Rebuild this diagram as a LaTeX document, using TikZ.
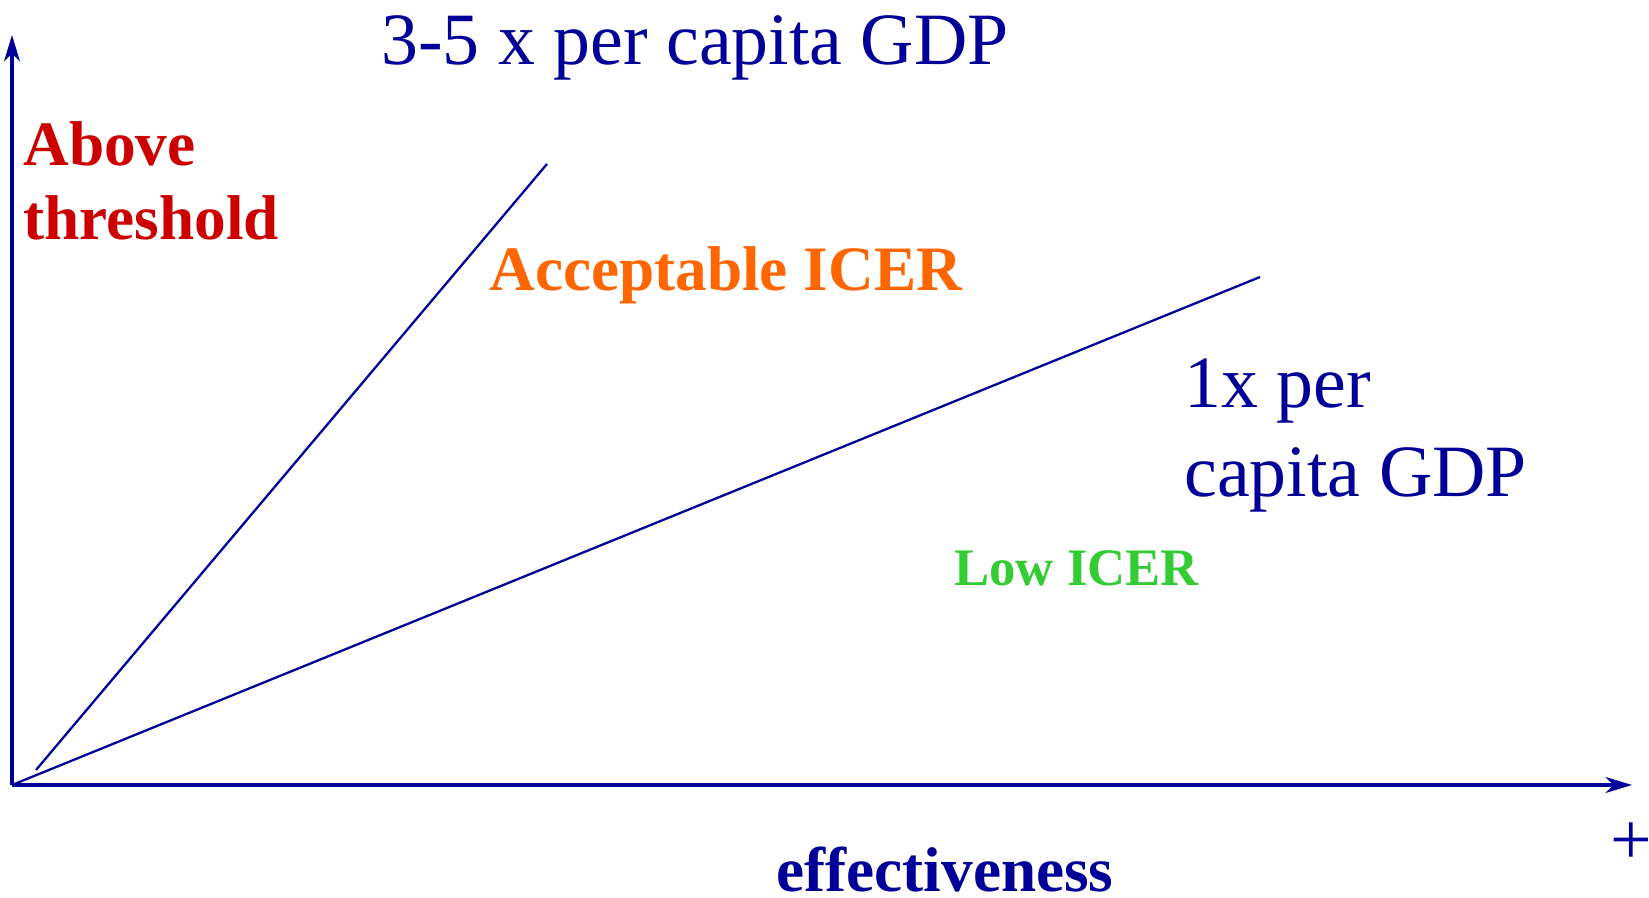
\documentclass[tikz,border=0pt]{standalone}
\usepackage{fontspec}
\setmainfont{Liberation Serif}
\usetikzlibrary{arrows.meta}
\definecolor{gdpblue}{RGB}{0,0,153}
\definecolor{highred}{RGB}{204,0,0}
\definecolor{okorange}{RGB}{255,102,0}
\definecolor{lowgreen}{RGB}{51,204,51}
\begin{document}
\begin{tikzpicture}[
            axis/.style = {draw=gdpblue, line width=2pt, -{Stealth[length=15pt, width=9pt, inset=4.5pt]}},
            threshold/.style = {draw=gdpblue, line width=1.3pt},
            every node/.style = {inner sep=0pt, anchor=base west, align=left},
            big/.style = {font=\fontsize{42}{51.2}\selectfont, text=gdpblue},
            bold/.style = {font=\fontsize{36}{42.5}\selectfont\bfseries}
          ]
          \useasboundingbox (-0.24,-2.26) rectangle (32.74,15.7);
          % axes
          \coordinate (O) at (0,0);
          \coordinate (ytop) at (0,15);
          \coordinate (xend) at (32.4,0);
          \draw[axis] (O) -- (ytop);
          \draw[axis] (O) -- (xend);
          % threshold lines
          \coordinate (steepA) at (0.48,0.3);
          \coordinate (steepB) at (10.7,12.42);
          \coordinate (flatB) at (24.96,10.16);
          \draw[threshold] (steepA) -- (steepB);
          \draw[threshold] (O) -- (flatB);
          % labels (base of a two-line node is its last line)
          \node[big] (upper) at (7.38,14.4) {3-5 x per capita GDP};
          \node[big] (lower) at (23.44,5.76) {1x per\\capita GDP};
          \node[bold, text=highred] (above) at (0.22,10.9) {Above\\threshold};
          \node[bold, text=okorange] (accept) at (9.54,9.88) {Acceptable ICER};
          \node[font=\fontsize{30}{36}\selectfont\bfseries, text=lowgreen] (low) at (18.84,3.98) {Low ICER};
          \node[bold, text=gdpblue] (xlabel) at (15.28,-2.14) {effectiveness};
          \node[big, anchor=center] (plus) at (32.38,-1.18) {+};
\end{tikzpicture}
\end{document}
